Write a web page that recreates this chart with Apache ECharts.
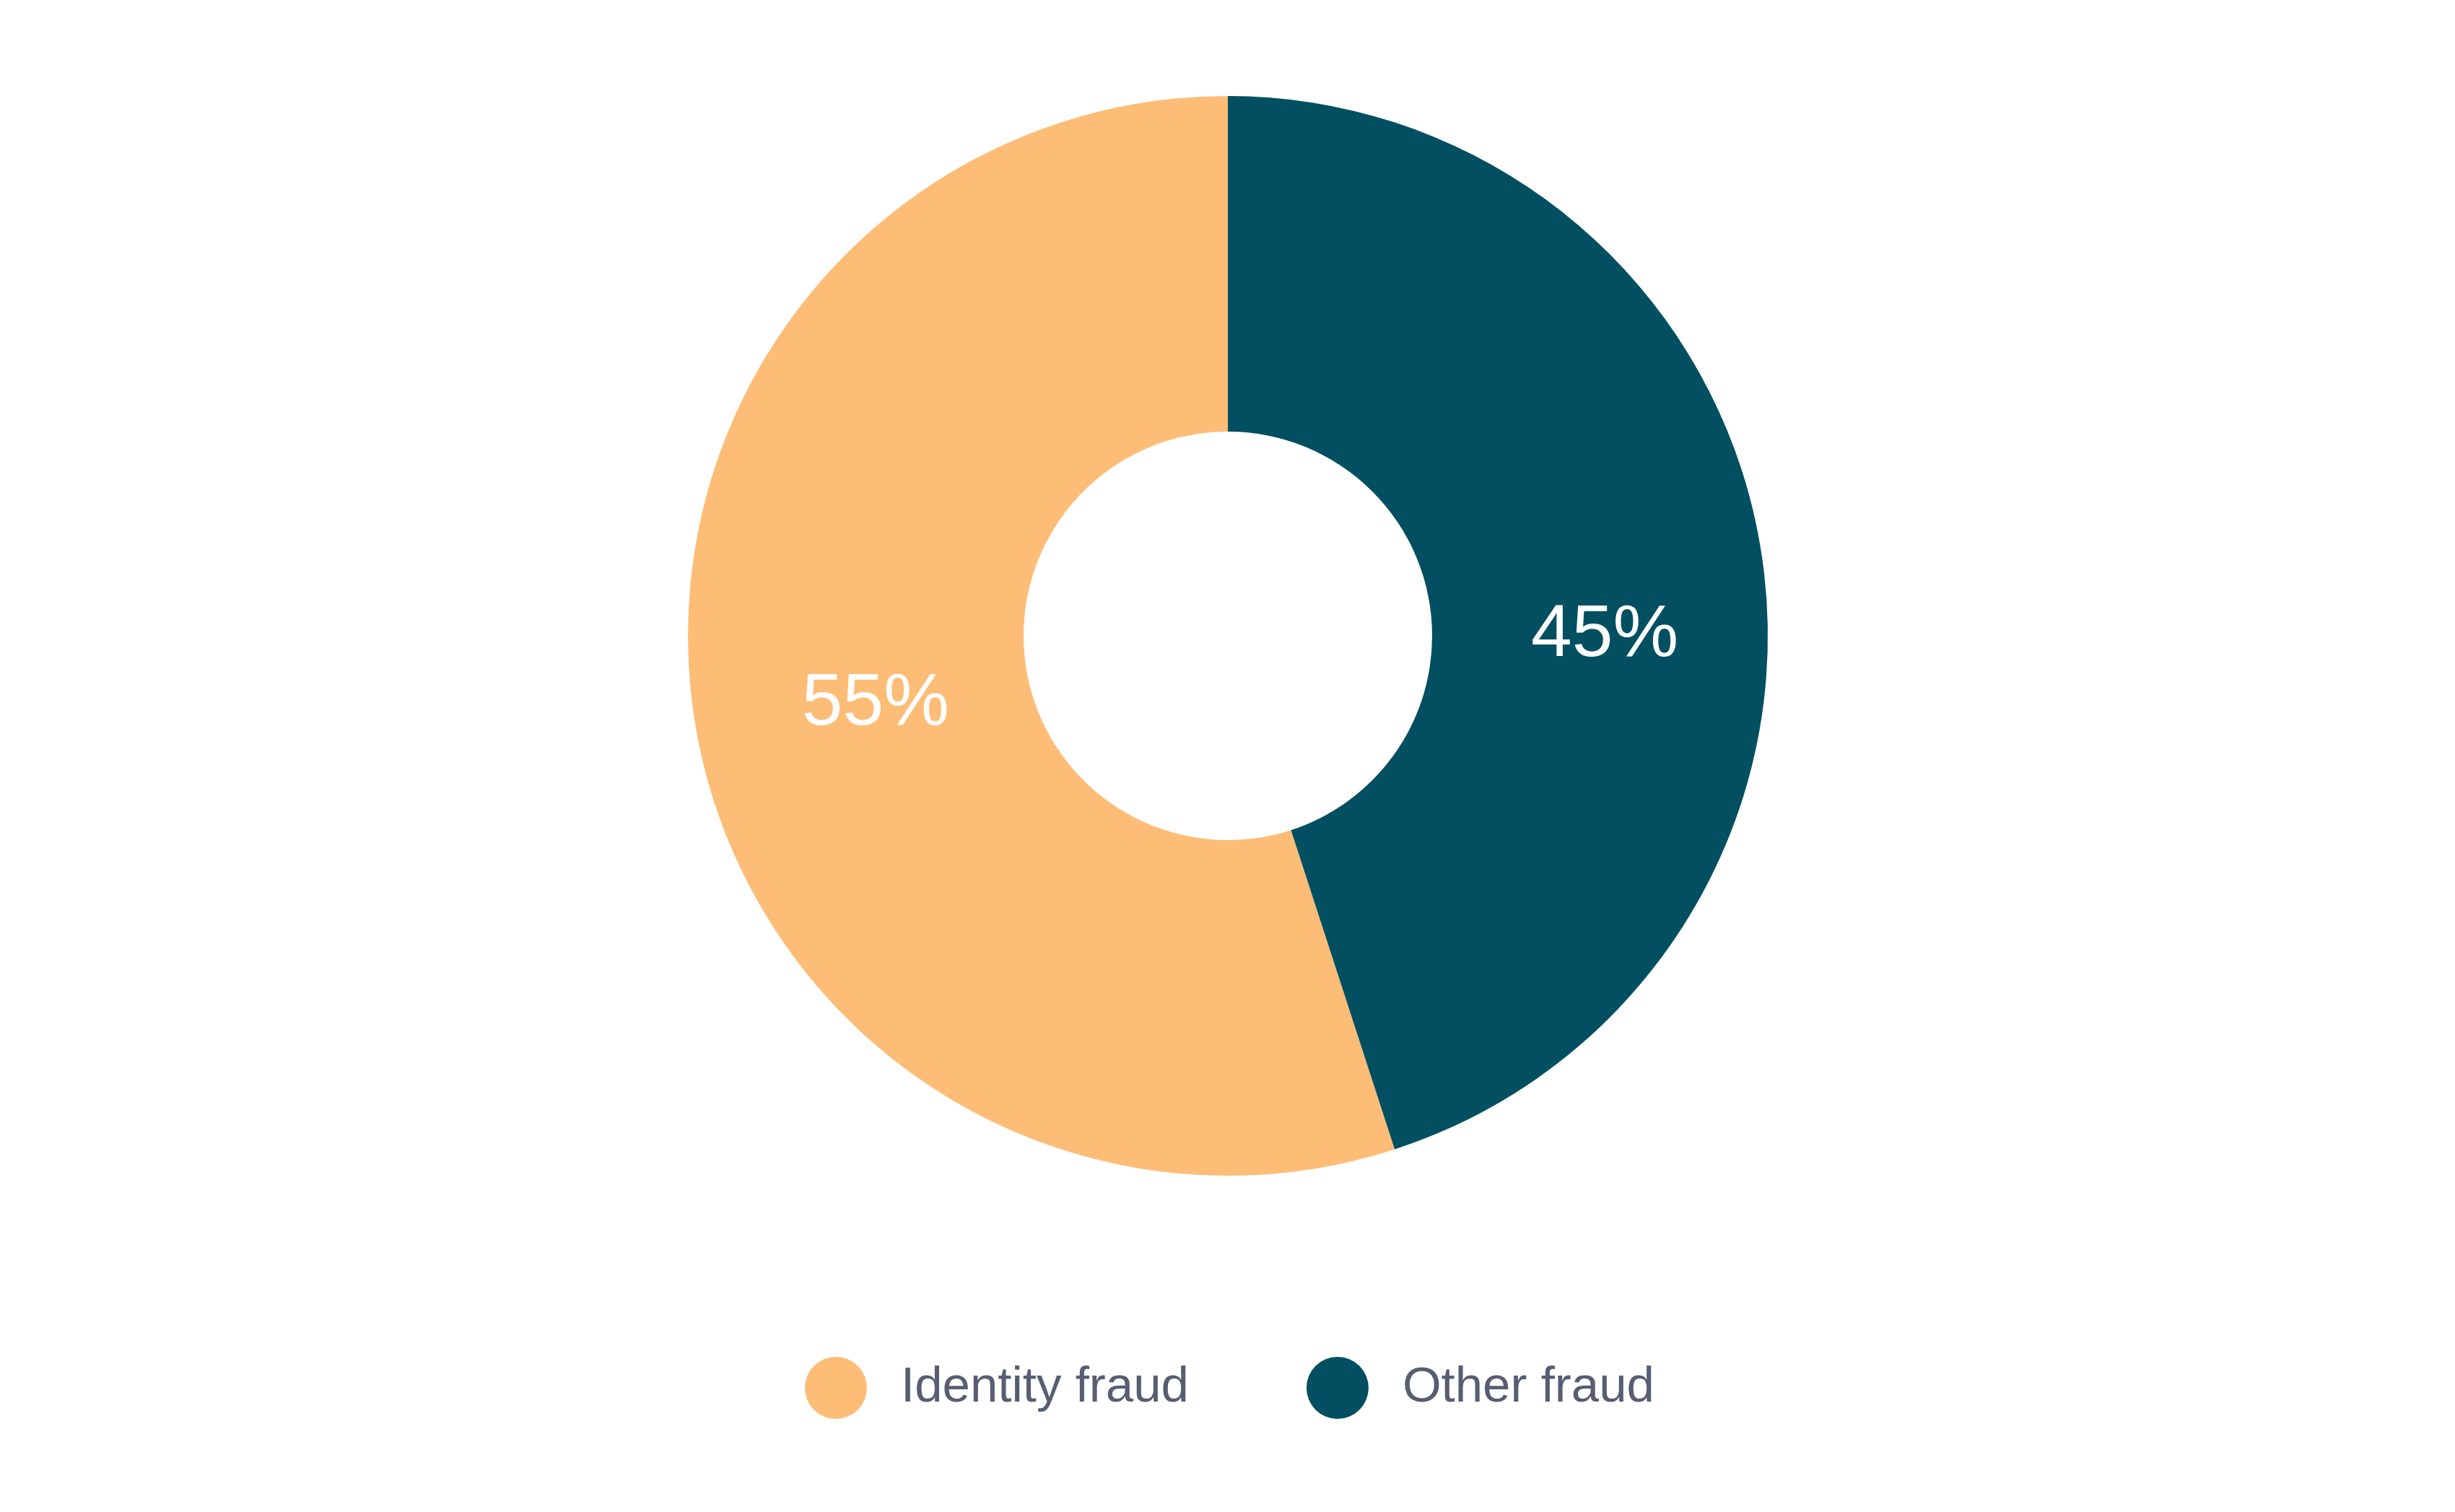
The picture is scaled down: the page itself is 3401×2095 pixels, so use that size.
<!DOCTYPE html>
<html>
<head>
<meta charset="utf-8">
<script src="https://cdn.jsdelivr.net/npm/echarts@6/dist/echarts.min.js"></script>
<style>
  html, body { margin: 0; padding: 0; background: #fff; }
  #chart { width: 3401px; height: 2095px; }
</style>
</head>
<body>
<div id="chart"></div>
<script>
// data
const categories = ['Identity fraud', 'Other fraud'];
const shares = [55, 45];
const colors = ['#FDBD77', '#024F61'];
// small nudges so the percent labels sit where the original has them
const labelNudge = [[24, 14], [10, 81]];

const chart = echarts.init(document.getElementById('chart'), null, { renderer: 'canvas' });

const pieData = categories.map((name, i) => ({
  name: name,
  value: shares[i],
  itemStyle: { color: colors[i] }
}));

chart.setOption({
  backgroundColor: '#ffffff',
  animation: false,
  legend: {
    data: categories,
    bottom: 124,
    left: 1110,
    icon: 'circle',
    itemWidth: 86,
    itemHeight: 86,
    itemGap: 163,
    textStyle: {
      color: '#585D72',
      fontSize: 69,
      fontFamily: 'Liberation Sans, Arial, sans-serif',
      padding: [0, 0, 0, 42]
    }
  },
  series: [
    {
      type: 'pie',
      center: [1701, 881],
      radius: [283, 748],
      startAngle: 90,
      clockwise: false,
      avoidLabelOverlap: false,
      label: {
        show: true,
        position: 'inside',
        formatter: '{c}%',
        color: '#ffffff',
        fontSize: 102,
        fontFamily: 'Liberation Sans, Arial, sans-serif'
      },
      labelLine: { show: false },
      labelLayout: function (p) {
        const n = labelNudge[p.dataIndex];
        return { dx: n[0], dy: n[1] };
      },
      emphasis: { disabled: true },
      data: pieData
    }
  ]
});
</script>
</body>
</html>
